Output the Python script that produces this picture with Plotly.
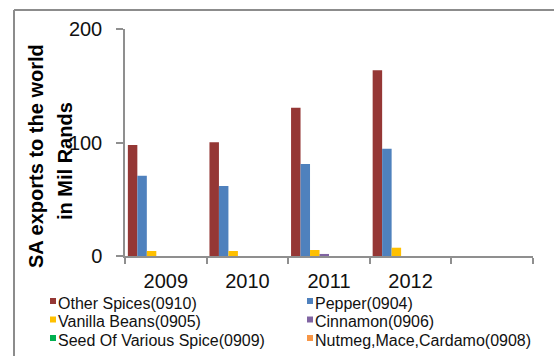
import plotly.graph_objects as go

# Export values (million rand) by HS spice heading
years = ["2009", "2010", "2011", "2012"]
axis_categories = ["2009", "2010", "2011", "2012", " "]

other_spices = [97.8, 100.2, 130.7, 163.6]
pepper = [70.7, 61.7, 81.0, 94.5]
vanilla = [4.4, 4.4, 5.3, 7.3]
cinnamon = [0.0, 0.0, 1.8, 0.0]
seed_spice = [0.0, 0.0, 0.0, 0.0]
nutmeg = [0.0, 0.0, 0.0, 0.0]

series_names = [
    "Other Spices(0910)",
    "Pepper(0904)",
    "Vanilla Beans(0905)",
    "Cinnamon(0906)",
    "Seed Of Various Spice(0909)",
    "Nutmeg,Mace,Cardamo(0908)",
]
series_values = [other_spices, pepper, vanilla, cinnamon, seed_spice, nutmeg]
series_colors = ["#953735", "#4F81BD", "#FFC000", "#8064A2", "#00B050", "#F79646"]

y_ticks = [0, 100, 200]

# Figure geometry
W, H = 554, 356
ML, MR, MT, MB = 125, 21, 29, 100
PW, PH = W - ML - MR, H - MT - MB

def px_to_paper_x(px):
    return (px - ML) / PW

def px_to_paper_y(py):
    return (H - MB - py) / PH

FONT = "Liberation Sans, Arial, sans-serif"
TEXT = "#111111"

fig = go.Figure()

# Each category holds eight bar slots; the six series fill the first six
slot = 0.93 / 8
start = -0.465
for i, (name, vals, col) in enumerate(zip(series_names, series_values, series_colors)):
    fig.add_trace(go.Bar(
        x=years,
        y=vals,
        name=name,
        marker=dict(color=col, line=dict(width=0)),
        width=slot,
        offset=start + i * slot,
        showlegend=False,
    ))

axis_color = "#8f8f8f"

fig.update_layout(
    width=W,
    height=H,
    margin=dict(l=ML, r=MR, t=MT, b=MB, pad=0, autoexpand=False),
    paper_bgcolor="white",
    plot_bgcolor="white",
    barmode="overlay",
    font=dict(family=FONT, color=TEXT),
    xaxis=dict(
        type="category",
        categoryorder="array",
        categoryarray=axis_categories,
        range=[-0.5, 4.5],
        tickson="boundaries",
        ticks="outside",
        ticklen=6,
        tickcolor=axis_color,
        tickwidth=1.5,
        showline=True,
        linecolor=axis_color,
        linewidth=1.5,
        showgrid=False,
        tickfont=dict(family=FONT, size=20, color=TEXT),
        ticklabelstandoff=6,
        fixedrange=True,
    ),
    yaxis=dict(
        range=[0, 200],
        tickvals=y_ticks,
        ticks="outside",
        ticklen=7,
        tickcolor=axis_color,
        tickwidth=1.5,
        showline=True,
        linecolor=axis_color,
        linewidth=1.5,
        showgrid=False,
        zeroline=False,
        tickfont=dict(family=FONT, size=20, color=TEXT),
        ticklabelstandoff=10,
        fixedrange=True,
    ),
)

# Axis title in two lines, rotated
title_font = dict(family=FONT, size=20, color="#000000", weight="bold")
fig.add_annotation(
    text="SA exports to the world", textangle=-90,
    xref="paper", yref="paper",
    x=px_to_paper_x(36), y=px_to_paper_y(156),
    xanchor="center", yanchor="middle", showarrow=False, font=title_font,
)
fig.add_annotation(
    text="in Mil Rands", textangle=-90,
    xref="paper", yref="paper",
    x=px_to_paper_x(65), y=px_to_paper_y(161),
    xanchor="center", yanchor="middle", showarrow=False, font=title_font,
)

# Legend: two columns, three rows, small colour square before each name
legend_cols_px = [50, 307]
legend_rows_px = [303, 321.5, 340]
key_size = 6
for i, (name, col) in enumerate(zip(series_names, series_colors)):
    kx = legend_cols_px[i % 2]
    ky = legend_rows_px[i // 2] - 2
    fig.add_shape(
        type="rect", xref="paper", yref="paper",
        x0=px_to_paper_x(kx), x1=px_to_paper_x(kx + key_size),
        y0=px_to_paper_y(ky - key_size / 2), y1=px_to_paper_y(ky + key_size / 2),
        fillcolor=col, line=dict(width=0),
    )
    fig.add_annotation(
        text=name,
        xref="paper", yref="paper",
        x=px_to_paper_x(kx + key_size), y=px_to_paper_y(legend_rows_px[i // 2]),
        xanchor="left", yanchor="middle", showarrow=False,
        font=dict(family=FONT, size=16, color=TEXT),
    )

# Chart-area frame (top and left edges)
frame = dict(color="#8c8c8c", width=2)
fig.add_shape(type="line", xref="paper", yref="paper",
              x0=px_to_paper_x(14), x1=px_to_paper_x(W + 10),
              y0=px_to_paper_y(10), y1=px_to_paper_y(10), line=frame)
fig.add_shape(type="line", xref="paper", yref="paper",
              x0=px_to_paper_x(14), x1=px_to_paper_x(14),
              y0=px_to_paper_y(10), y1=px_to_paper_y(H + 10), line=frame)

fig.write_html("out.html", config={"displayModeBar": False})
